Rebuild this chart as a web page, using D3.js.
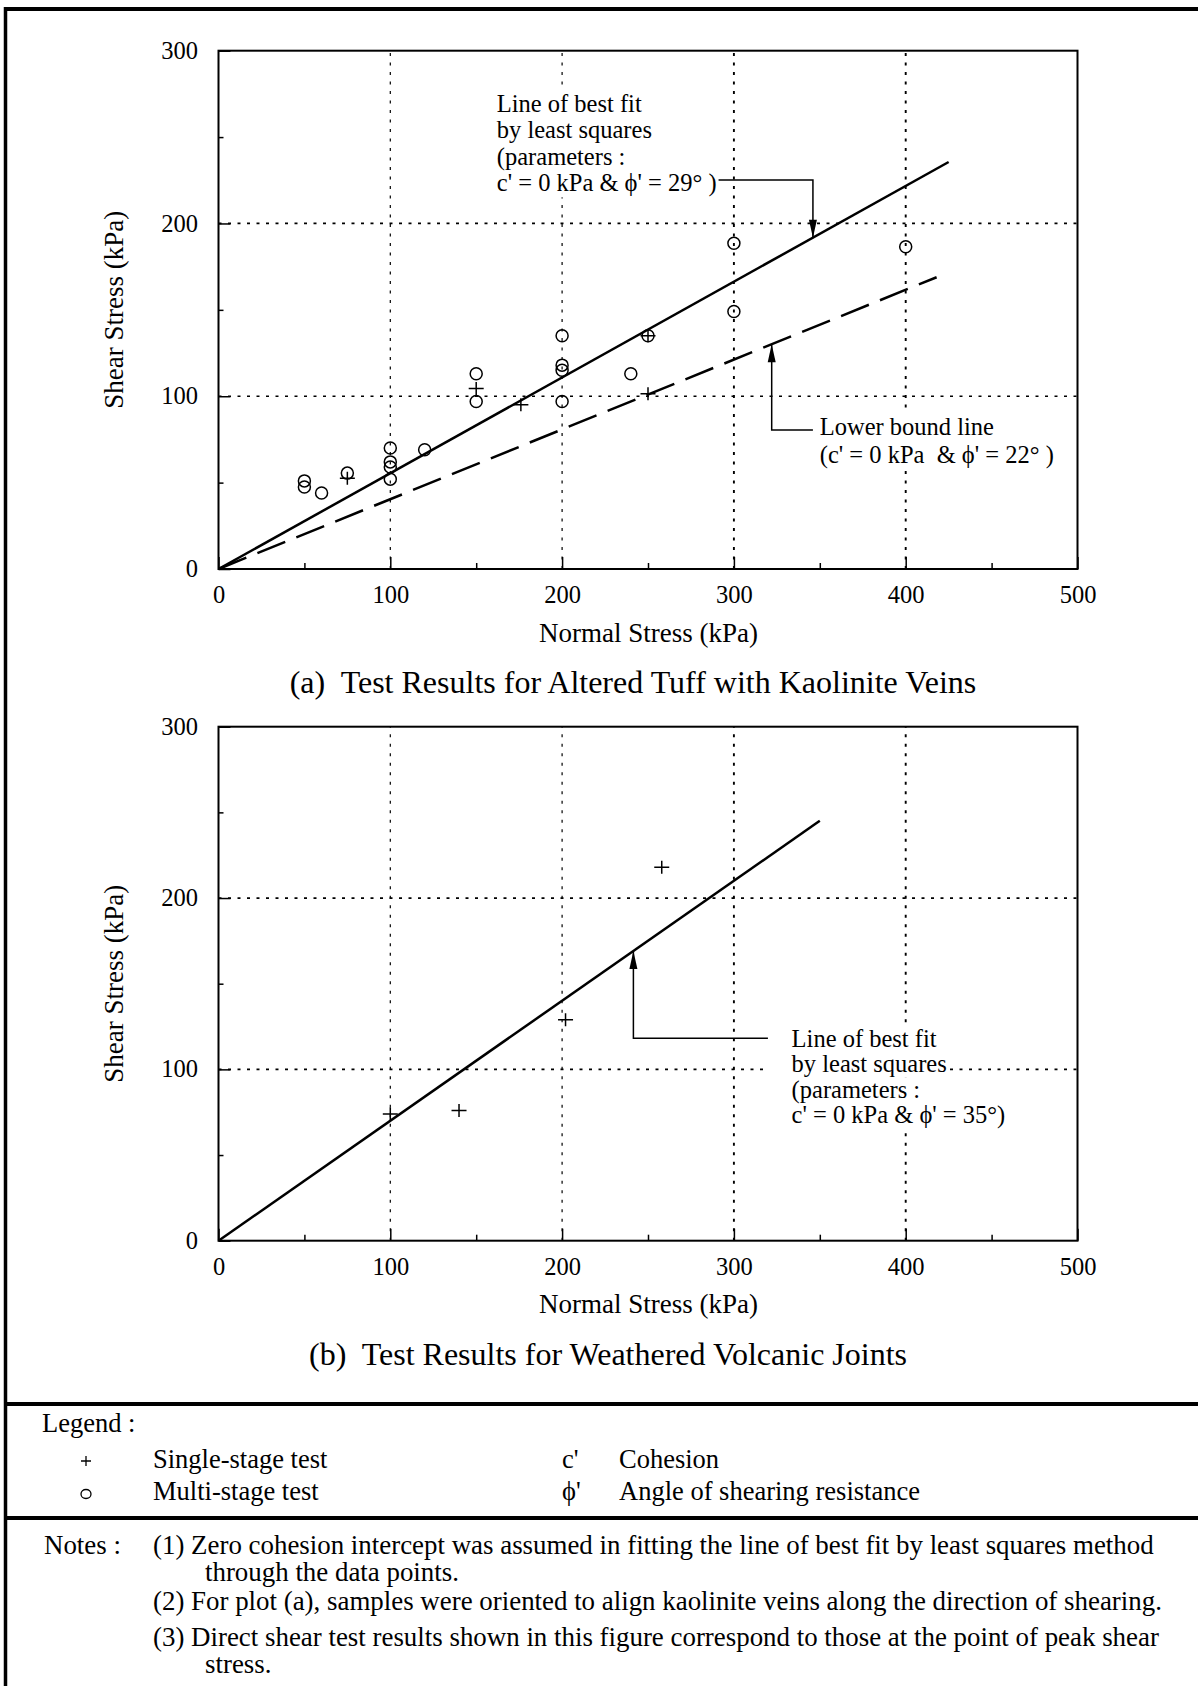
<!DOCTYPE html>
<html>
<head>
<meta charset="utf-8">
<script src="https://cdn.jsdelivr.net/npm/d3@7"></script>
<style>
  body { margin: 0; background: #fff; }
  svg { display: block; font-family: "Liberation Serif", "Times New Roman", Times, serif; }
  text { white-space: pre; }
</style>
</head>
<body>
<svg id="fig" width="1198" height="1686"></svg>
<script>
// ---- axis ticks (kPa) ----
const xTicks = [0, 100, 200, 300, 400, 500];
const xMinor = [50, 150, 250, 350, 450];
const yTicks = [0, 100, 200, 300];
const yMinor = [50, 150, 250];
const xGrid = [100, 200, 300, 400];
const yGrid = [100, 200];

// ---- (a) altered tuff with kaolinite veins: [normal stress, shear stress] ----
const tuffMulti = [
  [50, 51], [50, 47.5], [60, 44], [75, 55.5],
  [100, 70], [100, 62], [100, 59], [100, 52], [120, 69],
  [150, 113], [150, 97],
  [200, 135], [200, 118], [200, 115], [200, 97],
  [240, 113], [250, 135], [300, 188.5], [300, 149], [400, 186.5]
];
const tuffSingle = [[75, 52.5], [150, 104.5], [176, 95], [250, 135], [250, 101.5]];
const tuffFit = { phi: 29, maxStress: 425 };
const tuffLower = { phi: 22, maxStress: 418 };

// ---- (b) weathered volcanic joints ----
const jointSingle = [[100, 74], [140, 76], [202, 129], [258, 218]];
const jointFit = { phi: 35, maxStress: 350 };

// ---- text ----
const tuffFitLabel = ["Line of best fit", "by least squares", "(parameters :", "c' = 0 kPa & \u03d5' = 29\u00b0 )"];
const tuffLowerLabel = ["Lower bound line", "(c' = 0 kPa  & \u03d5' = 22\u00b0 )"];
const jointFitLabel = ["Line of best fit", "by least squares", "(parameters :", "c' = 0 kPa & \u03d5' = 35\u00b0)"];
const titleA = "(a)  Test Results for Altered Tuff with Kaolinite Veins";
const titleB = "(b)  Test Results for Weathered Volcanic Joints";
const notes = [
  ["(1) Zero cohesion intercept was assumed in fitting the line of best fit by least squares method", "through the data points."],
  ["(2) For plot (a), samples were oriented to align kaolinite veins along the direction of shearing."],
  ["(3) Direct shear test results shown in this figure correspond to those at the point of peak shear", "stress."]
];

const svg = d3.select("#fig");
const rad = d => d * Math.PI / 180;

// ---- outer frame ----
svg.append("line").attr("x1", 5.5).attr("x2", 5.5).attr("y1", 7).attr("y2", 1686)
  .attr("stroke", "#000").attr("stroke-width", 3.5);
svg.append("line").attr("x1", 4).attr("x2", 1198).attr("y1", 9).attr("y2", 9)
  .attr("stroke", "#000").attr("stroke-width", 4);
[1404, 1518].forEach(y => svg.append("line").attr("x1", 4).attr("x2", 1198)
  .attr("y1", y).attr("y2", y).attr("stroke", "#000").attr("stroke-width", 4));

function plus(g, x, y, hw, hh, sw) {
  g.append("path").attr("d", `M${x - hw},${y}H${x + hw}M${x},${y - hh}V${y + hh}`)
    .attr("stroke", "#000").attr("stroke-width", sw).attr("fill", "none");
}
function ring(g, x, y, rx, ry, sw) {
  g.append("ellipse").attr("cx", x).attr("cy", y).attr("rx", rx).attr("ry", ry)
    .attr("fill", "none").attr("stroke", "#000").attr("stroke-width", sw);
}

// text block with a white backing under each line (hides gridlines)
function labelBlock(g, lines, x, y0, dy, bgLeft, size) {
  const grp = g.append("g");
  const ends = [];
  lines.forEach((s, i) => {
    const t = grp.append("text").attr("x", x).attr("y", y0 + i * dy)
      .attr("font-size", size).text(s);
    const w = t.node().getComputedTextLength();
    ends.push(x + w);
    grp.insert("rect", "text").attr("x", bgLeft).attr("y", y0 + i * dy - dy * 0.78)
      .attr("width", x + w + 3 - bgLeft).attr("height", dy).attr("fill", "#fff");
  });
  return ends;
}

function arrowHead(g, x, y, dir) {
  // dir = +1 pointing down, -1 pointing up
  const L = 18, hw = 4;
  g.append("path").attr("d", `M${x},${y}L${x - hw},${y - dir * L}L${x + hw},${y - dir * L}Z`)
    .attr("fill", "#000");
}

function panel(cfg) {
  const x = d3.scaleLinear().domain([0, 500]).range([218.5, 1077.5]);
  const y = d3.scaleLinear().domain([0, 300]).range([cfg.bottom, cfg.top]);
  const g = svg.append("g");

  // grid
  g.selectAll(null).data(xGrid).join("line")
    .attr("x1", d => x(d)).attr("x2", d => x(d)).attr("y1", y(0)).attr("y2", y(300))
    .attr("stroke", "#000").attr("stroke-width", (d, i) => i < 2 ? 1.2 : 1.9)
    .attr("stroke-dasharray", "3,6.5");
  g.selectAll(null).data(yGrid).join("line")
    .attr("x1", x(0)).attr("x2", x(500)).attr("y1", d => y(d)).attr("y2", d => y(d))
    .attr("stroke", "#000").attr("stroke-width", 1.7).attr("stroke-dasharray", "3,6.5");

  // failure envelopes
  cfg.lines.forEach(l => {
    const pts = [[0, 0], [l.maxStress, l.maxStress * Math.tan(rad(l.phi))]];
    g.append("path").attr("d", d3.line().x(d => x(d[0])).y(d => y(d[1]))(pts))
      .attr("fill", "none").attr("stroke", "#000").attr("stroke-width", 2.5)
      .attr("stroke-dasharray", l.dash || null);
  });

  // annotations
  cfg.notes.forEach(a => {
    const tipY = y(a.at * Math.tan(rad(a.phi)));
    const ends = labelBlock(g, a.text, x(a.tx), y(a.ty), a.dy, a.bgLeft != null ? x(a.bgLeft) : x(a.tx) - 4, 24.5);
    const ax = x(a.at), ey = y(a.elbow);
    const sx = a.fromText ? ends[a.fromText] + 2 : x(a.to);
    g.append("path").attr("d", `M${sx},${ey}H${ax}V${tipY}`)
      .attr("fill", "none").attr("stroke", "#000").attr("stroke-width", 1.5);
    arrowHead(g, ax, tipY, tipY > ey ? 1 : -1);
  });

  // axes
  const ax = g.append("g").attr("transform", `translate(0,${y(0)})`)
    .call(d3.axisBottom(x).tickValues(xTicks).tickSizeInner(-12).tickSizeOuter(0).tickPadding(16.5));
  g.append("g").attr("transform", `translate(0,${y(0)})`)
    .call(d3.axisBottom(x).tickValues(xMinor).tickSizeInner(-6).tickSizeOuter(0).tickFormat(""))
    .call(s => s.select(".domain").remove());
  const ay = g.append("g").attr("transform", `translate(${x(0)},0)`)
    .call(d3.axisLeft(y).tickValues(yTicks).tickSizeInner(-12).tickSizeOuter(0).tickPadding(20.5));
  g.append("g").attr("transform", `translate(${x(0)},0)`)
    .call(d3.axisLeft(y).tickValues(yMinor).tickSizeInner(-5).tickSizeOuter(0).tickFormat(""))
    .call(s => s.select(".domain").remove());
  g.selectAll(".tick line").attr("stroke", "#000").attr("stroke-width", 1.5);
  g.selectAll(".domain").remove();
  [ax, ay].forEach(a => {
    a.attr("font-family", null).attr("font-size", 24.5);
    a.selectAll("text").attr("fill", "#000");
  });
  ay.selectAll("text").attr("dy", "0.31em");
  g.append("rect").attr("x", x(0)).attr("y", y(300)).attr("width", x(500) - x(0))
    .attr("height", y(0) - y(300)).attr("fill", "none").attr("stroke", "#000").attr("stroke-width", 2);

  // data markers
  (cfg.multi || []).forEach(d => ring(g, x(d[0]), y(d[1]), 6, 6, 1.5));
  (cfg.single || []).forEach(d => plus(g, x(d[0]), y(d[1]), 7.5, 6.5, 1.5));

  // axis titles
  g.append("text").attr("x", 648.5).attr("y", y(0) + 72.5).attr("text-anchor", "middle")
    .attr("font-size", 27).text("Normal Stress (kPa)");
  g.append("text").attr("transform", `translate(123,${(y(0) + y(300)) / 2}) rotate(-90)`)
    .attr("text-anchor", "middle").attr("font-size", 27).text("Shear Stress (kPa)");
  g.append("text").attr("x", cfg.titleX).attr("y", y(0) + cfg.titleDy).attr("text-anchor", "middle")
    .attr("font-size", 32).text(cfg.title);
}

panel({
  top: 50.7, bottom: 569,
  multi: tuffMulti, single: tuffSingle,
  lines: [tuffFit, Object.assign({ dash: "30,12" }, tuffLower)],
  notes: [
    { text: tuffFitLabel, tx: 162, ty: 264.7, dy: 26.6, at: 346, phi: tuffFit.phi, elbow: 225.2, fromText: 3 },
    { text: tuffLowerLabel, tx: 350, ty: 77.6, dy: 28, at: 322, phi: tuffLower.phi, elbow: 80.5, to: 346, bgLeft: 346 }
  ],
  title: titleA, titleX: 633, titleDy: 124
});

panel({
  top: 726.7, bottom: 1240.7,
  single: jointSingle,
  lines: [jointFit],
  notes: [
    { text: jointFitLabel, tx: 333.6, ty: 113.2, dy: 25.5, at: 241.5, phi: jointFit.phi, elbow: 118.1, to: 319.8, bgLeft: 319.8 }
  ],
  title: titleB, titleX: 608, titleDy: 124.5
});

// ---- legend ----
const lg = svg.append("g").attr("font-size", 26.5);
lg.append("text").attr("x", 42).attr("y", 1432).text("Legend :");
plus(lg, 86, 1461, 5, 5, 1.3);
ring(lg, 86, 1494, 5, 4.5, 1.3);
lg.append("text").attr("x", 153).attr("y", 1468).text("Single-stage test");
lg.append("text").attr("x", 153).attr("y", 1500).text("Multi-stage test");
lg.append("text").attr("x", 562).attr("y", 1468).text("c'");
lg.append("text").attr("x", 562).attr("y", 1500).text("\u03d5'");
lg.append("text").attr("x", 619).attr("y", 1468).text("Cohesion");
lg.append("text").attr("x", 619).attr("y", 1500).text("Angle of shearing resistance");

// ---- notes ----
const ng = svg.append("g").attr("font-size", 26.9);
ng.append("text").attr("x", 44).attr("y", 1554).text("Notes :");
const noteY = [[1554, 1581], [1610], [1646, 1673]];
notes.forEach((n, i) => n.forEach((s, j) => {
  ng.append("text").attr("x", j === 0 ? 153 : 205).attr("y", noteY[i][j]).text(s);
}));
</script>
</body>
</html>
